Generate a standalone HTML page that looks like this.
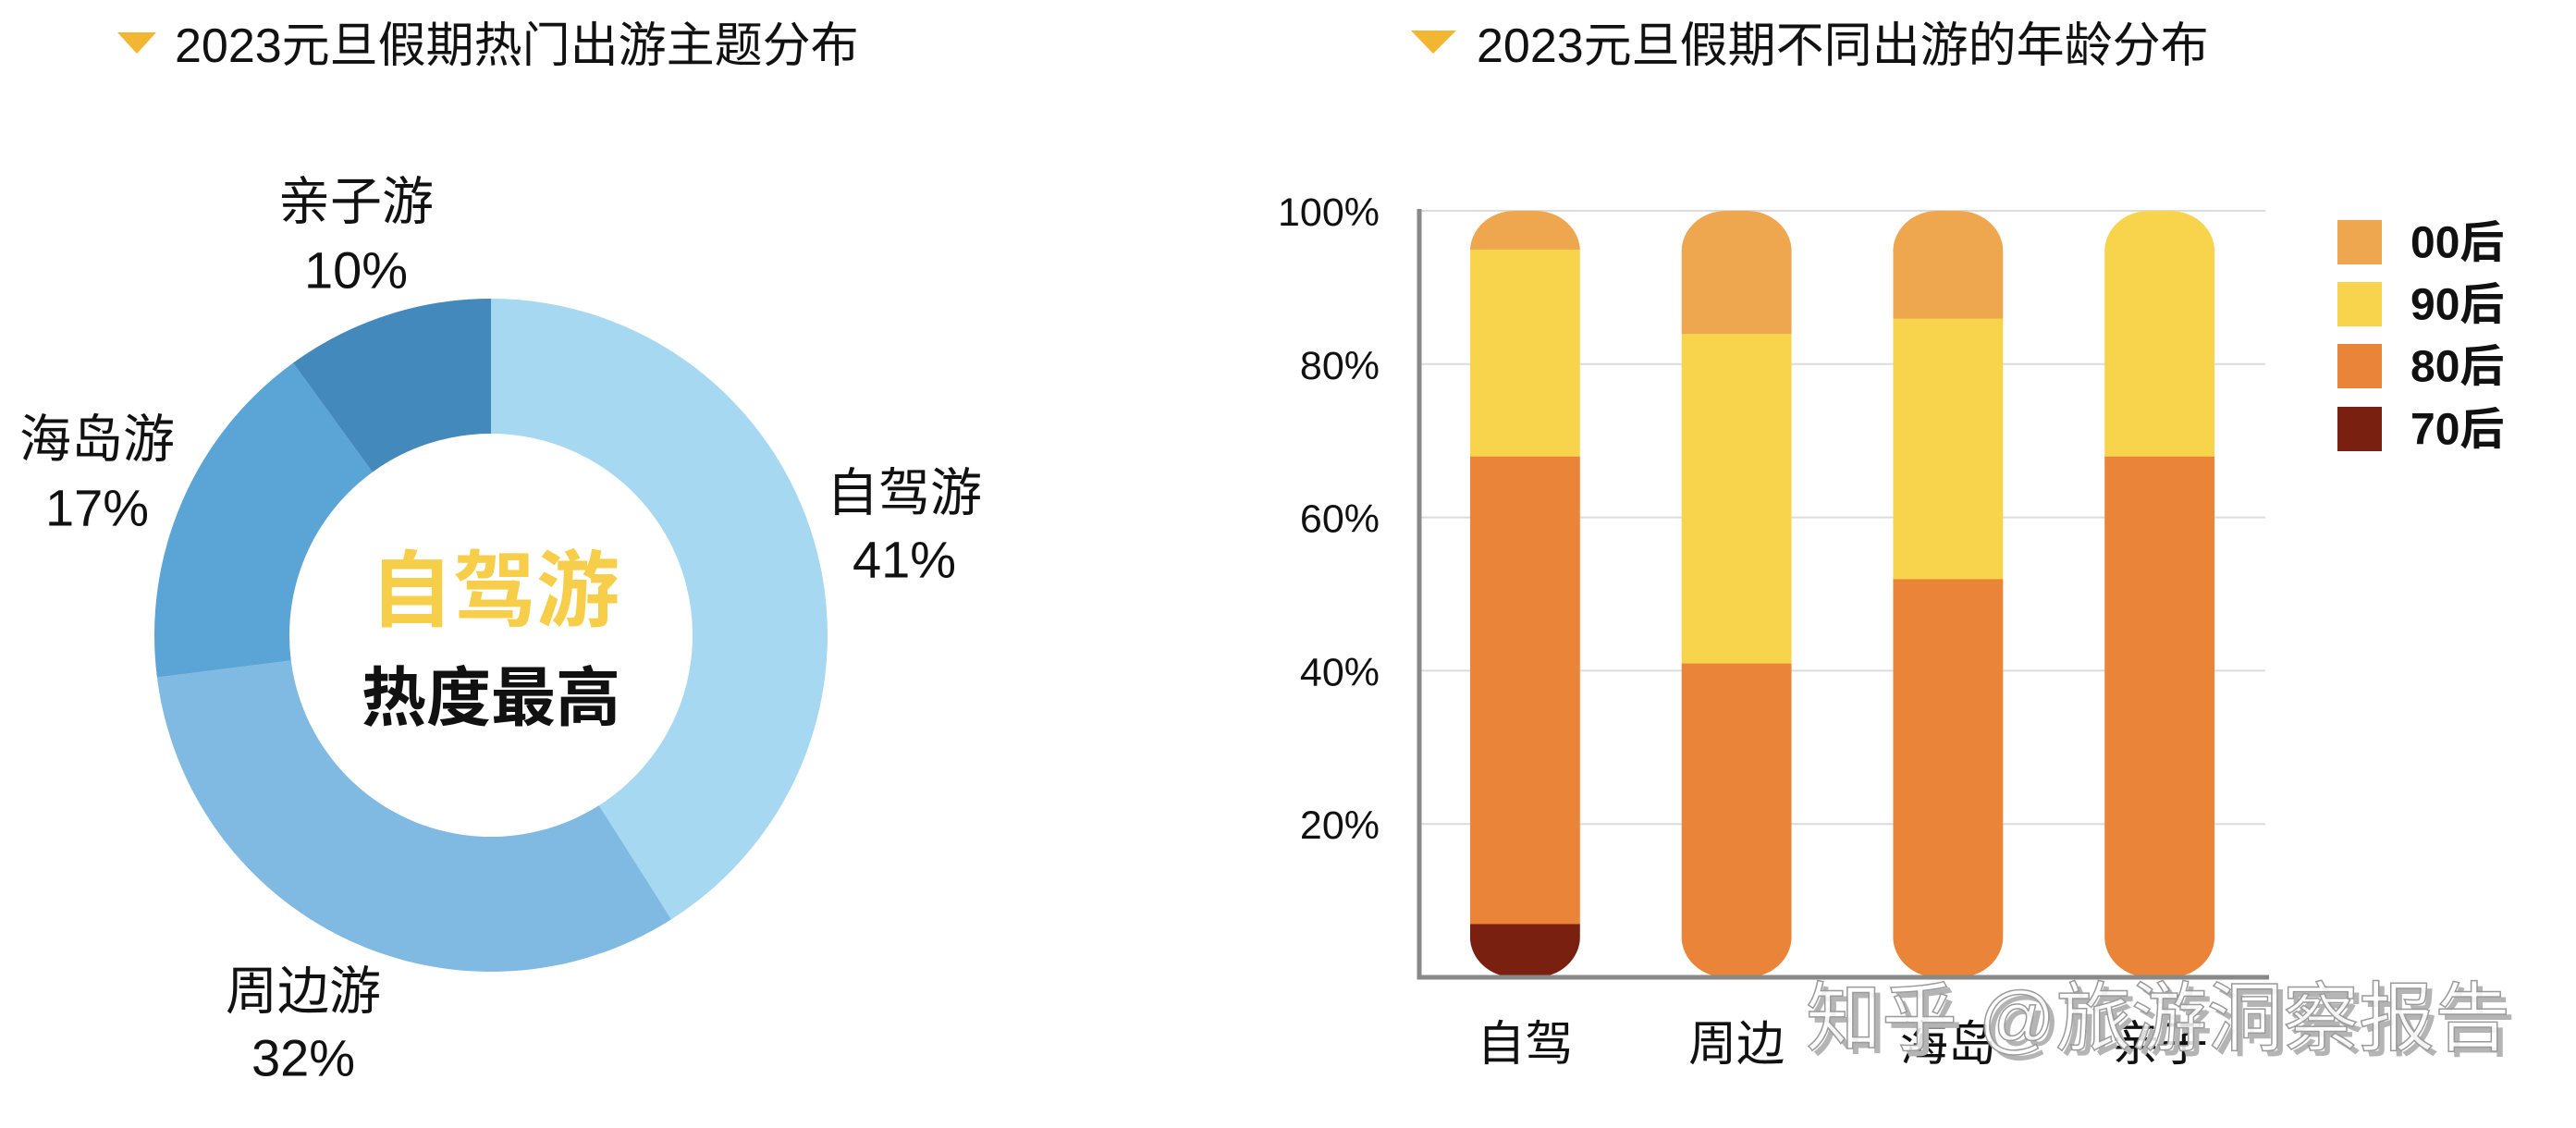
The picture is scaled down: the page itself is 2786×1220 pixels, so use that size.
<!DOCTYPE html>
<html><head><meta charset="utf-8"><style>
html,body{margin:0;padding:0;background:#fff;}
svg{display:block;}
text{font-family:"Liberation Sans","Noto Sans CJK SC",sans-serif;}
</style></head><body>
<svg id="root" width="2786" height="1220" viewBox="0 0 2786 1220" xmlns="http://www.w3.org/2000/svg">
  <defs id="defs"></defs>
  <g>
    <polygon points="127,35 169,35 148,58" fill="#f2b632"/>
    <text x="189" y="50" font-size="52" dominant-baseline="central" fill="#111">2023元旦假期热门出游主题分布</text>
  </g>
  <g>
    <polygon points="1526,33 1575,33 1550,58" fill="#f2b632"/>
    <text x="1597" y="50" font-size="52" dominant-baseline="central" fill="#111">2023元旦假期不同出游的年龄分布</text>
  </g>
  <g id="donut"></g>
  <g id="bars"></g>
  <g>
    <text x="1959" y="1108" font-size="82" dominant-baseline="central" fill="#b4b4b4">知乎 @旅游洞察报告</text>
    <text x="1953" y="1102" font-size="82" dominant-baseline="central" fill="#ffffff" fill-opacity="0.85" stroke="#9a9a9a" stroke-width="1.5">知乎 @旅游洞察报告</text>
  </g>
</svg>
<script>
const NS="http://www.w3.org/2000/svg";
// donut data
const pieLabels=["自驾游","周边游","海岛游","亲子游"];
const pieValues=[41,32,17,10];
const pieColors=["#a6d8f2","#80bae3","#5aa4d6","#4489bb"];
const pieLabelPos=[[978,533,605],[328,1072,1144],[105,475,549],[385,218,292]];
// bar data
const barCats=["自驾","周边","海岛","亲子"];
const seriesNames=["70后","80后","90后","00后"];
const s70=[7,0,0,0];
const s80=[61,41,52,68];
const s90=[27,43,34,32];
const s00=[5,16,14,0];
const yTicks=[20,40,60,80,100];
const tickLabels=["20%","40%","60%","80%","100%"];
const seriesColors=["#7a2010","#ea8438","#f7d44c","#eea64f"];

function mk(tag,attrs,parent){const e=document.createElementNS(NS,tag);for(const k in attrs)e.setAttribute(k,attrs[k]);parent.appendChild(e);return e;}

// Donut
const dg=document.getElementById('donut');
const cx=531,cy=687,R=364,r=218;
const total=pieValues.reduce((a,b)=>a+b,0);
let acc=0;
function pt(rad,frac){const a=frac*2*Math.PI-Math.PI/2;return [cx+rad*Math.cos(a),cy+rad*Math.sin(a)];}
pieValues.forEach((v,i)=>{
  const f0=acc/total,f1=(acc+v)/total;acc+=v;
  const [x0,y0]=pt(R,f0),[x1,y1]=pt(R,f1),[x2,y2]=pt(r,f1),[x3,y3]=pt(r,f0);
  const large=(f1-f0)>0.5?1:0;
  const p=mk('path',{d:`M${x0},${y0}A${R},${R} 0 ${large} 1 ${x1},${y1}L${x2},${y2}A${r},${r} 0 ${large} 0 ${x3},${y3}Z`,fill:pieColors[i]},dg);
  
  
  const lp=pieLabelPos[i];
  const t1=mk('text',{x:lp[0],y:lp[1],'font-size':56,'text-anchor':'middle','dominant-baseline':'central',fill:'#111'},dg);
  t1.textContent=pieLabels[i];
  
  
  const t2=mk('text',{x:lp[0],y:lp[2],'font-size':56,'text-anchor':'middle','dominant-baseline':'central',fill:'#111'},dg);
  t2.textContent=pieValues[i]+'%';
  
  
});
const c1=mk('text',{x:535,y:640,'font-size':90,'font-weight':'bold','text-anchor':'middle','dominant-baseline':'central',fill:'#f7ce4a'},dg);
c1.textContent="自驾游";


const c2=mk('text',{x:531,y:755,'font-size':70,'font-weight':'bold','text-anchor':'middle','dominant-baseline':'central',fill:'#111'},dg);
c2.textContent="热度最高";



// Bars
const bg=document.getElementById('bars');
const defs=document.getElementById('defs');
const x0=1535,x1=2450,yTop=228,yBot=1057;
const yS=v=>yBot-(yBot-yTop)*v/100;
const band=(x1-x0)/barCats.length;
const xC=i=>x0+band*(i+0.5);
const bw=119;
yTicks.forEach((t,i)=>{
  const g=mk('line',{x1:x0,x2:x1,y1:yS(t),y2:yS(t),stroke:'#dcdcdc','stroke-width':2},bg);
  
  
  const tl=mk('text',{x:1492,y:yS(t)+2,'font-size':43,'text-anchor':'end','dominant-baseline':'central',fill:'#111'},bg);
  tl.textContent=tickLabels[i];
  
  
});
const series=[s70,s80,s90,s00];
barCats.forEach((c,i)=>{
  const cp=mk('clipPath',{id:'clip'+i},defs);
  const tot=series.reduce((a,s)=>a+s[i],0);
  mk('rect',{x:xC(i)-bw/2,y:yS(tot),width:bw,height:yS(0)-yS(tot),rx:48,ry:44},cp);
  const grp=mk('g',{'clip-path':'url(#clip'+i+')'},bg);
  
  
  let base=0;
  series.forEach((s,k)=>{
    if(s[i]<=0)return;
    const rc=mk('rect',{x:xC(i)-bw/2,y:yS(base+s[i]),width:bw,height:yS(base)-yS(base+s[i])+0.5,fill:seriesColors[k]},grp);
    
    
    base+=s[i];
  });
  const xl=mk('text',{x:xC(i),y:1130,'font-size':52,'text-anchor':'middle','dominant-baseline':'central',fill:'#111'},bg);
  xl.textContent=c;
  
  
});
const ay=mk('line',{x1:x0,x2:x0,y1:yTop-2,y2:yBot+2,stroke:'#888','stroke-width':5},bg);


const ax=mk('line',{x1:x0-2.5,x2:x1+4,y1:yBot,y2:yBot,stroke:'#888','stroke-width':5},bg);


// legend (top to bottom: 00,90,80,70)
const legOrder=[3,2,1,0];
const legY=[238,305,372,440];
legOrder.forEach((k,j)=>{
  const sq=mk('rect',{x:2528,y:legY[j],width:48,height:48,fill:seriesColors[k]},bg);
  
  
  const lt=mk('text',{x:2607,y:legY[j]+25,'font-size':48,'font-weight':'bold','dominant-baseline':'central',fill:'#111'},bg);
  lt.textContent=seriesNames[k];
  
  
});
</script>
</body></html>
